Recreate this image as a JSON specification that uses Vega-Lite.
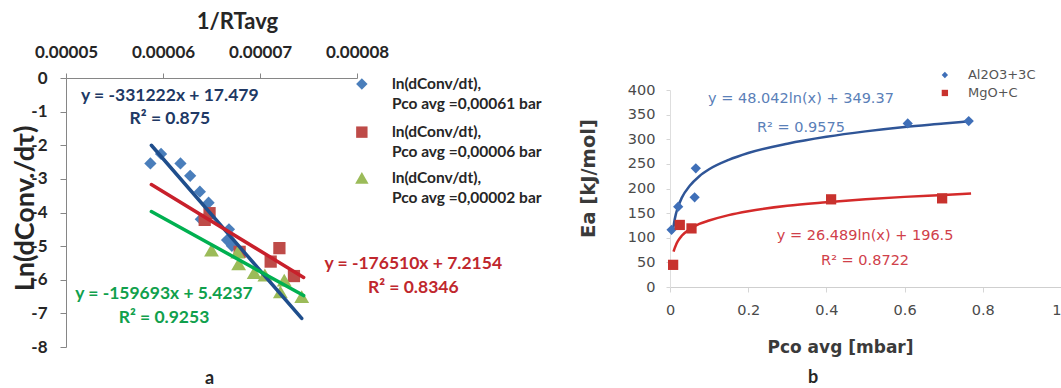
{
  "$schema": "https://vega.github.io/schema/vega-lite/v6.json",
  "width": 1061,
  "height": 388,
  "autosize": {"type": "none"},
  "padding": 0,
  "background": "white",
  "config": {"view": {"stroke": null}, "axis": {"grid": false}, "font": "Lato"},
  "datasets": {
    "apts": [
      {"x": 0.0000587, "y": -2.54, "s": "P061"},
      {"x": 0.0000598, "y": -2.26, "s": "P061"},
      {"x": 0.0000618, "y": -2.54, "s": "P061"},
      {"x": 0.0000628, "y": -2.91, "s": "P061"},
      {"x": 0.0000638, "y": -3.38, "s": "P061"},
      {"x": 0.0000647, "y": -3.71, "s": "P061"},
      {"x": 0.0000639, "y": -4.2, "s": "P061"},
      {"x": 0.0000668, "y": -4.5, "s": "P061"},
      {"x": 0.0000666, "y": -4.82, "s": "P061"},
      {"x": 0.0000671, "y": -4.99, "s": "P061"},
      {"x": 0.0000648, "y": -4.02, "s": "P006"},
      {"x": 0.0000643, "y": -4.22, "s": "P006"},
      {"x": 0.0000679, "y": -5.17, "s": "P006"},
      {"x": 0.000072, "y": -5.06, "s": "P006"},
      {"x": 0.0000711, "y": -5.46, "s": "P006"},
      {"x": 0.0000735, "y": -5.89, "s": "P006"},
      {"x": 0.000065, "y": -5.12, "s": "P002"},
      {"x": 0.0000677, "y": -5.18, "s": "P002"},
      {"x": 0.0000678, "y": -5.53, "s": "P002"},
      {"x": 0.0000694, "y": -5.79, "s": "P002"},
      {"x": 0.0000705, "y": -5.86, "s": "P002"},
      {"x": 0.0000725, "y": -6.01, "s": "P002"},
      {"x": 0.0000721, "y": -6.36, "s": "P002"},
      {"x": 0.0000743, "y": -6.5, "s": "P002"}
    ],
    "afit": [
      {"x": 0.0000588, "y": -2.0, "s": "F061"},
      {"x": 0.0000743, "y": -7.15, "s": "F061"},
      {"x": 0.0000588, "y": -3.17, "s": "F006"},
      {"x": 0.0000745, "y": -5.93, "s": "F006"},
      {"x": 0.0000588, "y": -3.97, "s": "F002"},
      {"x": 0.0000745, "y": -6.47, "s": "F002"}
    ],
    "bpts": [
      {"p": 0.004, "ea": 116, "s": "Al2O3+3C"},
      {"p": 0.021, "ea": 163, "s": "Al2O3+3C"},
      {"p": 0.066, "ea": 241, "s": "Al2O3+3C"},
      {"p": 0.063, "ea": 182, "s": "Al2O3+3C"},
      {"p": 0.608, "ea": 332, "s": "Al2O3+3C"},
      {"p": 0.764, "ea": 337, "s": "Al2O3+3C"},
      {"p": 0.008, "ea": 45, "s": "MgO+C"},
      {"p": 0.025, "ea": 126, "s": "MgO+C"},
      {"p": 0.055, "ea": 119, "s": "MgO+C"},
      {"p": 0.412, "ea": 178, "s": "MgO+C"},
      {"p": 0.696, "ea": 180, "s": "MgO+C"}
    ],
    "bfit": [
      {"p": 0.007, "ea": 111, "s": "FAl"},
      {"p": 0.01, "ea": 128, "s": "FAl"},
      {"p": 0.015, "ea": 148, "s": "FAl"},
      {"p": 0.02, "ea": 161, "s": "FAl"},
      {"p": 0.03, "ea": 181, "s": "FAl"},
      {"p": 0.05, "ea": 205, "s": "FAl"},
      {"p": 0.075, "ea": 225, "s": "FAl"},
      {"p": 0.1, "ea": 239, "s": "FAl"},
      {"p": 0.15, "ea": 258, "s": "FAl"},
      {"p": 0.2, "ea": 272, "s": "FAl"},
      {"p": 0.3, "ea": 291, "s": "FAl"},
      {"p": 0.4, "ea": 305, "s": "FAl"},
      {"p": 0.5, "ea": 316, "s": "FAl"},
      {"p": 0.6, "ea": 325, "s": "FAl"},
      {"p": 0.7, "ea": 332, "s": "FAl"},
      {"p": 0.77, "ea": 337, "s": "FAl"},
      {"p": 0.009, "ea": 72, "s": "FMg"},
      {"p": 0.012, "ea": 79, "s": "FMg"},
      {"p": 0.015, "ea": 85, "s": "FMg"},
      {"p": 0.02, "ea": 93, "s": "FMg"},
      {"p": 0.03, "ea": 104, "s": "FMg"},
      {"p": 0.05, "ea": 117, "s": "FMg"},
      {"p": 0.075, "ea": 128, "s": "FMg"},
      {"p": 0.1, "ea": 135, "s": "FMg"},
      {"p": 0.15, "ea": 146, "s": "FMg"},
      {"p": 0.2, "ea": 154, "s": "FMg"},
      {"p": 0.3, "ea": 165, "s": "FMg"},
      {"p": 0.4, "ea": 172, "s": "FMg"},
      {"p": 0.5, "ea": 178, "s": "FMg"},
      {"p": 0.6, "ea": 183, "s": "FMg"},
      {"p": 0.7, "ea": 187, "s": "FMg"},
      {"p": 0.77, "ea": 190, "s": "FMg"}
    ],
    "one": [{}]
  },
  "layer": [
    {
      "layer": [
        {
          "data": {"name": "apts"},
          "transform": [{"filter": "datum.s != 'P002'"}],
          "mark": {"type": "point", "filled": true, "opacity": 1, "size": 150},
          "encoding": {
            "x": {"field": "x", "type": "quantitative",
              "scale": {"domain": [0.00005, 0.00008], "range": [66, 357], "nice": false, "zero": false},
              "axis": {"orient": "top", "offset": -78, "values": [0.00005, 0.00006, 0.00007, 0.00008], "format": ".5f",
                "labelFont": "Lato", "labelFontSize": 17, "labelFontWeight": "bold", "labelColor": "#262626",
                "labelPadding": 12, "labelFlush": false, "labelOverlap": false,
                "tickSize": 5, "tickColor": "#868686", "domainColor": "#868686",
                "title": "1/RTavg", "titleFont": "Lato", "titleFontSize": 22, "titleFontWeight": "bold", "titleColor": "#262626",
                "titleX": 237, "titleY": -45, "titleBaseline": "bottom", "titleAlign": "center"}},
            "y": {"field": "y", "type": "quantitative",
              "scale": {"domain": [-8, 0], "range": [347, 78], "nice": false, "zero": false},
              "axis": {"orient": "left", "offset": -66, "values": [-8, -7, -6, -5, -4, -3, -2, -1, 0],
                "labelExpr": "datum.value == 0 ? '0' : '-' + abs(datum.value)",
                "labelFont": "Lato", "labelFontSize": 17, "labelFontWeight": "bold", "labelColor": "#262626",
                "labelPadding": 13, "tickSize": 6, "tickColor": "#868686", "domainColor": "#868686",
                "title": "Ln(dConv./dτ)", "titleFont": "Lato", "titleFontSize": 27, "titleFontWeight": "bold", "titleColor": "#262626",
                "titleX": -41, "titleY": 208, "titleAngle": -90, "titleBaseline": "middle", "titleAlign": "center"}},
            "color": {"field": "s", "type": "nominal", "legend": null,
              "scale": {"domain": ["P061","P006","P002","F061","F006","F002","Al2O3+3C","MgO+C","FAl","FMg"],
                "range": ["#4A7EBB","#BE4B48","#9BBB59","#1F4E8C","#C8202B","#00B050","#3F6FB8","#C8322E","#2F5597","#D42A2A"]}},
            "shape": {"field": "s", "type": "nominal", "legend": null,
              "scale": {"domain": ["P061","P006","P002","Al2O3+3C","MgO+C"], "range": ["diamond","square","triangle-up","diamond","square"]}}
          }
        },
        {
          "data": {"name": "apts"},
          "transform": [{"filter": "datum.s == 'P002'"}],
          "mark": {"type": "point", "filled": true, "opacity": 1, "size": 220},
          "encoding": {
            "x": {"field": "x", "type": "quantitative", "scale": {"domain": [0.00005, 0.00008], "range": [66, 357], "nice": false, "zero": false}},
            "y": {"field": "y", "type": "quantitative", "scale": {"domain": [-8, 0], "range": [347, 78], "nice": false, "zero": false}},
            "color": {"field": "s", "type": "nominal", "legend": null,
              "scale": {"domain": ["P061","P006","P002","F061","F006","F002","Al2O3+3C","MgO+C","FAl","FMg"],
                "range": ["#4A7EBB","#BE4B48","#9BBB59","#1F4E8C","#C8202B","#00B050","#3F6FB8","#C8322E","#2F5597","#D42A2A"]}},
            "shape": {"field": "s", "type": "nominal", "legend": null,
              "scale": {"domain": ["P061","P006","P002","Al2O3+3C","MgO+C"], "range": ["diamond","square","triangle-up","diamond","square"]}}
          }
        },
        {
          "data": {"name": "afit"},
          "mark": {"type": "line", "strokeWidth": 3.5, "strokeCap": "round"},
          "encoding": {
            "x": {"field": "x", "type": "quantitative", "scale": {"domain": [0.00005, 0.00008], "range": [66, 357], "nice": false, "zero": false}},
            "y": {"field": "y", "type": "quantitative", "scale": {"domain": [-8, 0], "range": [347, 78], "nice": false, "zero": false}},
            "color": {"field": "s", "type": "nominal", "legend": null,
              "scale": {"domain": ["P061","P006","P002","F061","F006","F002","Al2O3+3C","MgO+C","FAl","FMg"],
                "range": ["#4A7EBB","#BE4B48","#9BBB59","#1F4E8C","#C8202B","#00B050","#3F6FB8","#C8322E","#2F5597","#D42A2A"]}},
            "detail": {"field": "s"}
          }
        },
        {
          "data": {"name": "one"},
          "mark": {"type": "text", "font": "Lato", "fontSize": 17.5, "fontWeight": "bold", "align": "center", "baseline": "alphabetic", "lineHeight": 23, "color": "#203864"},
          "encoding": {
            "x": {"datum": 0.0000607, "type": "quantitative", "scale": {"domain": [0.00005, 0.00008], "range": [66, 357], "nice": false, "zero": false}},
            "y": {"datum": -0.684, "type": "quantitative", "scale": {"domain": [-8, 0], "range": [347, 78], "nice": false, "zero": false}},
            "text": {"value": ["y = -331222x + 17.479", "R² = 0.875"]}
          }
        },
        {
          "data": {"name": "one"},
          "mark": {"type": "text", "font": "Lato", "fontSize": 17.5, "fontWeight": "bold", "align": "center", "baseline": "alphabetic", "lineHeight": 24, "color": "#C0272D"},
          "encoding": {
            "x": {"datum": 0.0000858, "type": "quantitative", "scale": {"domain": [0.00005, 0.00008], "range": [66, 357], "nice": false, "zero": false}},
            "y": {"datum": -5.68, "type": "quantitative", "scale": {"domain": [-8, 0], "range": [347, 78], "nice": false, "zero": false}},
            "text": {"value": ["y = -176510x + 7.2154", "R² = 0.8346"]}
          }
        },
        {
          "data": {"name": "one"},
          "mark": {"type": "text", "font": "Lato", "fontSize": 17.5, "fontWeight": "bold", "align": "center", "baseline": "alphabetic", "lineHeight": 24, "color": "#10A04C"},
          "encoding": {
            "x": {"datum": 0.0000601, "type": "quantitative", "scale": {"domain": [0.00005, 0.00008], "range": [66, 357], "nice": false, "zero": false}},
            "y": {"datum": -6.57, "type": "quantitative", "scale": {"domain": [-8, 0], "range": [347, 78], "nice": false, "zero": false}},
            "text": {"value": ["y = -159693x + 5.4237", "R² = 0.9253"]}
          }
        },
        {
          "data": {"name": "one"},
          "mark": {"type": "point", "filled": true, "opacity": 1, "shape": "diamond", "size": 130, "color": "#4A7EBB"},
          "encoding": {
            "x": {"datum": 0.0000805, "type": "quantitative", "scale": {"domain": [0.00005, 0.00008], "range": [66, 357], "nice": false, "zero": false}},
            "y": {"datum": -0.18, "type": "quantitative", "scale": {"domain": [-8, 0], "range": [347, 78], "nice": false, "zero": false}}
          }
        },
        {
          "data": {"name": "one"},
          "mark": {"type": "point", "filled": true, "opacity": 1, "shape": "square", "size": 130, "color": "#BE4B48"},
          "encoding": {
            "x": {"datum": 0.0000805, "type": "quantitative", "scale": {"domain": [0.00005, 0.00008], "range": [66, 357], "nice": false, "zero": false}},
            "y": {"datum": -1.61, "type": "quantitative", "scale": {"domain": [-8, 0], "range": [347, 78], "nice": false, "zero": false}}
          }
        },
        {
          "data": {"name": "one"},
          "mark": {"type": "point", "filled": true, "opacity": 1, "shape": "triangle-up", "size": 180, "color": "#9BBB59"},
          "encoding": {
            "x": {"datum": 0.0000805, "type": "quantitative", "scale": {"domain": [0.00005, 0.00008], "range": [66, 357], "nice": false, "zero": false}},
            "y": {"datum": -2.97, "type": "quantitative", "scale": {"domain": [-8, 0], "range": [347, 78], "nice": false, "zero": false}}
          }
        },
        {
          "data": {"name": "one"},
          "mark": {"type": "text", "font": "Lato", "fontSize": 15.5, "fontWeight": "bold", "align": "left", "baseline": "alphabetic", "lineHeight": 20, "color": "#262626"},
          "encoding": {
            "x": {"datum": 0.0000836, "type": "quantitative", "scale": {"domain": [0.00005, 0.00008], "range": [66, 357], "nice": false, "zero": false}},
            "y": {"datum": -0.327, "type": "quantitative", "scale": {"domain": [-8, 0], "range": [347, 78], "nice": false, "zero": false}},
            "text": {"value": ["ln(dConv/dt),", "Pco avg =0,00061 bar"]}
          }
        },
        {
          "data": {"name": "one"},
          "mark": {"type": "text", "font": "Lato", "fontSize": 15.5, "fontWeight": "bold", "align": "left", "baseline": "alphabetic", "lineHeight": 20, "color": "#262626"},
          "encoding": {
            "x": {"datum": 0.0000836, "type": "quantitative", "scale": {"domain": [0.00005, 0.00008], "range": [66, 357], "nice": false, "zero": false}},
            "y": {"datum": -1.755, "type": "quantitative", "scale": {"domain": [-8, 0], "range": [347, 78], "nice": false, "zero": false}},
            "text": {"value": ["ln(dConv/dt),", "Pco avg =0,00006 bar"]}
          }
        },
        {
          "data": {"name": "one"},
          "mark": {"type": "text", "font": "Lato", "fontSize": 15.5, "fontWeight": "bold", "align": "left", "baseline": "alphabetic", "lineHeight": 20, "color": "#262626"},
          "encoding": {
            "x": {"datum": 0.0000836, "type": "quantitative", "scale": {"domain": [0.00005, 0.00008], "range": [66, 357], "nice": false, "zero": false}},
            "y": {"datum": -3.12, "type": "quantitative", "scale": {"domain": [-8, 0], "range": [347, 78], "nice": false, "zero": false}},
            "text": {"value": ["ln(dConv/dt),", "Pco avg =0,00002 bar"]}
          }
        },
        {
          "data": {"name": "one"},
          "mark": {"type": "text", "font": "Lato", "fontSize": 18, "fontWeight": "bold", "align": "center", "baseline": "alphabetic", "color": "#262626"},
          "encoding": {
            "x": {"datum": 0.0000648, "type": "quantitative", "scale": {"domain": [0.00005, 0.00008], "range": [66, 357], "nice": false, "zero": false}},
            "y": {"datum": -9.1, "type": "quantitative", "scale": {"domain": [-8, 0], "range": [347, 78], "nice": false, "zero": false}},
            "text": {"value": "a"}
          }
        }
      ]
    },
    {
      "layer": [
        {
          "data": {"name": "bfit"},
          "mark": {"type": "line", "strokeWidth": 2.5, "interpolate": "monotone"},
          "encoding": {
            "x": {"field": "p", "type": "quantitative",
              "scale": {"domain": [0, 1], "range": [670, 1061], "nice": false, "zero": false},
              "axis": {"orient": "bottom", "offset": -101, "values": [0, 0.2, 0.4, 0.6, 0.8, 1], "format": "~g",
                "labelFont": "DejaVu Sans", "labelFontSize": 14.5, "labelColor": "#4a4a4a", "labelPadding": 11, "labelFlush": false, "labelOverlap": false,
                "labelAlign": {"condition": {"test": "datum.value == 1", "value": "right"}, "value": "center"},
                "tickSize": 5, "tickColor": "#d6d6d6", "domainColor": "#cfcfcf",
                "title": "Pco avg [mbar]", "titleFont": "DejaVu Sans", "titleFontSize": 17, "titleFontWeight": "bold", "titleColor": "#3a3a3a",
                "titleX": 840, "titleY": 65, "titleBaseline": "alphabetic", "titleAlign": "center"}},
            "y": {"field": "ea", "type": "quantitative",
              "scale": {"domain": [0, 400], "range": [287, 90], "nice": false, "zero": false},
              "axis": {"orient": "left", "offset": -670, "values": [0, 50, 100, 150, 200, 250, 300, 350, 400],
                "labelFont": "DejaVu Sans", "labelFontSize": 14.5, "labelColor": "#4a4a4a", "labelPadding": 11,
                "tickSize": 4, "tickColor": "#d6d6d6", "domainColor": "#dedede",
                "title": "Ea [kJ/mol]", "titleFont": "DejaVu Sans", "titleFontSize": 19.5, "titleFontWeight": "bold", "titleColor": "#3a3a3a",
                "titleX": -82, "titleY": 178, "titleAngle": -90, "titleBaseline": "middle", "titleAlign": "center"}},
            "color": {"field": "s", "type": "nominal", "legend": null,
              "scale": {"domain": ["P061","P006","P002","F061","F006","F002","Al2O3+3C","MgO+C","FAl","FMg"],
                "range": ["#4A7EBB","#BE4B48","#9BBB59","#1F4E8C","#C8202B","#00B050","#3F6FB8","#C8322E","#2F5597","#D42A2A"]}},
            "detail": {"field": "s"}
          }
        },
        {
          "data": {"name": "bpts"},
          "mark": {"type": "point", "filled": true, "opacity": 1, "size": 105},
          "encoding": {
            "x": {"field": "p", "type": "quantitative", "scale": {"domain": [0, 1], "range": [670, 1061], "nice": false, "zero": false}},
            "y": {"field": "ea", "type": "quantitative", "scale": {"domain": [0, 400], "range": [287, 90], "nice": false, "zero": false}},
            "color": {"field": "s", "type": "nominal", "legend": null,
              "scale": {"domain": ["P061","P006","P002","F061","F006","F002","Al2O3+3C","MgO+C","FAl","FMg"],
                "range": ["#4A7EBB","#BE4B48","#9BBB59","#1F4E8C","#C8202B","#00B050","#3F6FB8","#C8322E","#2F5597","#D42A2A"]}},
            "shape": {"field": "s", "type": "nominal", "legend": null,
              "scale": {"domain": ["P061","P006","P002","Al2O3+3C","MgO+C"], "range": ["diamond","square","triangle-up","diamond","square"]}}
          }
        },
        {
          "data": {"name": "one"},
          "mark": {"type": "text", "font": "DejaVu Sans", "fontSize": 14.5, "align": "center", "baseline": "alphabetic", "lineHeight": 29, "color": "#5A80B8"},
          "encoding": {
            "x": {"datum": 0.335, "type": "quantitative", "scale": {"domain": [0, 1], "range": [670, 1061], "nice": false, "zero": false}},
            "y": {"datum": 373.6, "type": "quantitative", "scale": {"domain": [0, 400], "range": [287, 90], "nice": false, "zero": false}},
            "text": {"value": ["y = 48.042ln(x) + 349.37", "R² = 0.9575"]}
          }
        },
        {
          "data": {"name": "one"},
          "mark": {"type": "text", "font": "DejaVu Sans", "fontSize": 14.5, "align": "center", "baseline": "alphabetic", "lineHeight": 25, "color": "#D0404A"},
          "encoding": {
            "x": {"datum": 0.499, "type": "quantitative", "scale": {"domain": [0, 1], "range": [670, 1061], "nice": false, "zero": false}},
            "y": {"datum": 95.4, "type": "quantitative", "scale": {"domain": [0, 400], "range": [287, 90], "nice": false, "zero": false}},
            "text": {"value": ["y = 26.489ln(x) + 196.5", "R² = 0.8722"]}
          }
        },
        {
          "data": {"name": "one"},
          "mark": {"type": "point", "filled": true, "opacity": 1, "shape": "diamond", "size": 40, "color": "#3F6FB8"},
          "encoding": {
            "x": {"datum": 0.703, "type": "quantitative", "scale": {"domain": [0, 1], "range": [670, 1061], "nice": false, "zero": false}},
            "y": {"datum": 430.5, "type": "quantitative", "scale": {"domain": [0, 400], "range": [287, 90], "nice": false, "zero": false}}
          }
        },
        {
          "data": {"name": "one"},
          "mark": {"type": "point", "filled": true, "opacity": 1, "shape": "square", "size": 40, "color": "#C8322E"},
          "encoding": {
            "x": {"datum": 0.703, "type": "quantitative", "scale": {"domain": [0, 1], "range": [670, 1061], "nice": false, "zero": false}},
            "y": {"datum": 394, "type": "quantitative", "scale": {"domain": [0, 400], "range": [287, 90], "nice": false, "zero": false}}
          }
        },
        {
          "data": {"name": "one"},
          "mark": {"type": "text", "font": "DejaVu Sans", "fontSize": 13, "align": "left", "baseline": "alphabetic", "lineHeight": 18, "color": "#555555"},
          "encoding": {
            "x": {"datum": 0.762, "type": "quantitative", "scale": {"domain": [0, 1], "range": [670, 1061], "nice": false, "zero": false}},
            "y": {"datum": 422, "type": "quantitative", "scale": {"domain": [0, 400], "range": [287, 90], "nice": false, "zero": false}},
            "text": {"value": ["Al2O3+3C", "MgO+C"]}
          }
        },
        {
          "data": {"name": "one"},
          "mark": {"type": "text", "font": "Lato", "fontSize": 18, "fontWeight": "bold", "align": "center", "baseline": "alphabetic", "color": "#262626"},
          "encoding": {
            "x": {"datum": 0.366, "type": "quantitative", "scale": {"domain": [0, 1], "range": [670, 1061], "nice": false, "zero": false}},
            "y": {"datum": -195, "type": "quantitative", "scale": {"domain": [0, 400], "range": [287, 90], "nice": false, "zero": false}},
            "text": {"value": "b"}
          }
        }
      ]
    }
  ],
  "resolve": {"scale": {"x": "independent", "y": "independent"}, "axis": {"x": "independent", "y": "independent"}}
}
